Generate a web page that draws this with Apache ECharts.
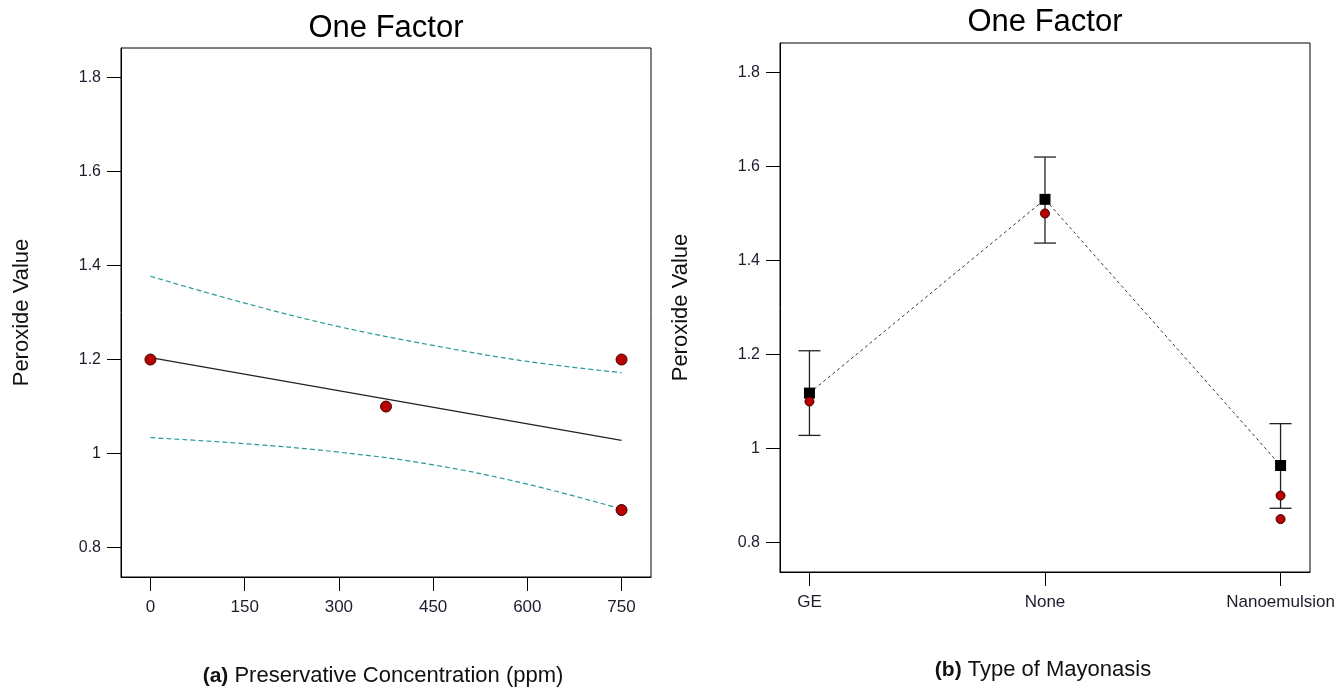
<!DOCTYPE html>
<html>
<head>
<meta charset="utf-8">
<script src="https://cdn.jsdelivr.net/npm/echarts@6/dist/echarts.min.js"></script>
<style>
  html, body { margin: 0; background: #fff; }
  #chart { width: 1336px; height: 688px; }
</style>
</head>
<body>
<div id="chart"></div>
<script>
// shared y axis ticks
const peroxTicks = [0.8, 1, 1.2, 1.4, 1.6, 1.8];

// (a) preservative concentration
const concTicks = [0, 150, 300, 450, 600, 750];
const concObsX = [0, 375, 750, 750];
const concObsY = [1.2, 1.1, 1.2, 0.88];
const concFitX = [0, 750];
const concFitY = [1.204, 1.028];
const concBandX = [0, 150, 300, 450, 600, 750];
const concUpper = [1.377, 1.320, 1.270, 1.230, 1.196, 1.172];
const concLower = [1.034, 1.021, 1.003, 0.976, 0.935, 0.882];

// (b) type of mayonnaise
const typeNames = ['GE', 'None', 'Nanoemulsion'];
const typeMean = [1.118, 1.530, 0.964];
const typeLow = [1.028, 1.437, 0.873];
const typeHigh = [1.208, 1.620, 1.053];
const typeObsIdx = [0, 1, 2, 2];
const typeObsY = [1.10, 1.50, 0.90, 0.85];

const FONT = 'Liberation Sans, Arial, sans-serif';
const RED = '#b80000';

function zip(a, b) {
  return a.map((v, i) => [v, b[i]]);
}

function yAxisOpt(gridIndex) {
  return {
    type: 'value',
    gridIndex: gridIndex,
    min: 0.7375,
    max: 1.8625,
    name: 'Peroxide Value',
    nameLocation: 'middle',
    nameGap: 88,
    nameTextStyle: { fontFamily: FONT, fontSize: 22, color: '#111' },
    axisLine: { show: true, onZero: false, lineStyle: { color: '#000', width: 1 } },
    axisTick: { show: true, length: 14, customValues: peroxTicks, lineStyle: { color: '#000' } },
    axisLabel: { customValues: peroxTicks, margin: 20, fontFamily: FONT, fontSize: 16, color: '#1c1c2c' },
    splitLine: { show: false }
  };
}

const chart = echarts.init(document.getElementById('chart'));

chart.setOption({
  animation: false,
  backgroundColor: '#fff',
  title: [
    { text: 'One Factor', left: 386, top: 13, textAlign: 'center', padding: 0,
      textStyle: { fontFamily: FONT, fontSize: 31, fontWeight: 'normal', color: '#000' } },
    { text: 'One Factor', left: 1045, top: 7, textAlign: 'center', padding: 0,
      textStyle: { fontFamily: FONT, fontSize: 31, fontWeight: 'normal', color: '#000' } },
    { text: '{b|(a)} Preservative Concentration (ppm)', left: 383, top: 665, textAlign: 'center', padding: 0,
      textStyle: { fontFamily: FONT, fontSize: 22, fontWeight: 'normal', color: '#111',
        rich: { b: { fontFamily: FONT, fontSize: 21, fontWeight: 'bold', color: '#111' } } } },
    { text: '{b|(b)} Type of Mayonasis', left: 1043, top: 659, textAlign: 'center', padding: 0,
      textStyle: { fontFamily: FONT, fontSize: 22, fontWeight: 'normal', color: '#111',
        rich: { b: { fontFamily: FONT, fontSize: 21, fontWeight: 'bold', color: '#111' } } } }
  ],
  grid: [
    { left: 121, top: 48, width: 530, height: 529, show: true, borderColor: '#000', borderWidth: 1,
      outerBoundsMode: 'none' },
    { left: 780, top: 43, width: 530, height: 529, show: true, borderColor: '#000', borderWidth: 1,
      outerBoundsMode: 'none' }
  ],
  xAxis: [
    {
      type: 'value',
      gridIndex: 0,
      min: -46.875,
      max: 796.875,
      axisLine: { show: true, onZero: false, lineStyle: { color: '#000', width: 1 } },
      axisTick: { show: true, length: 14, customValues: concTicks, lineStyle: { color: '#000' } },
      axisLabel: { customValues: concTicks, margin: 22, fontFamily: FONT, fontSize: 17, color: '#1c1c2c' },
      splitLine: { show: false }
    },
    {
      type: 'value',
      gridIndex: 1,
      min: -0.125,
      max: 2.125,
      axisLine: { show: true, onZero: false, lineStyle: { color: '#000', width: 1 } },
      axisTick: { show: true, length: 14, customValues: [0, 1, 2], lineStyle: { color: '#000' } },
      axisLabel: {
        customValues: [0, 1, 2], margin: 22, fontFamily: FONT, fontSize: 17, color: '#1c1c2c',
        formatter: (v) => typeNames[Math.round(v)] || ''
      },
      splitLine: { show: false }
    }
  ],
  yAxis: [yAxisOpt(0), yAxisOpt(1)],
  series: [
    // ---- panel (a)
    {
      type: 'line', xAxisIndex: 0, yAxisIndex: 0,
      data: zip(concBandX, concUpper), smooth: 0.4, symbol: 'none',
      lineStyle: { color: '#2b9a98', width: 1.2, type: [5, 3] }
    },
    {
      type: 'line', xAxisIndex: 0, yAxisIndex: 0,
      data: zip(concBandX, concLower), smooth: 0.4, symbol: 'none',
      lineStyle: { color: '#2b9a98', width: 1.2, type: [5, 3] }
    },
    {
      type: 'line', xAxisIndex: 0, yAxisIndex: 0,
      data: zip(concFitX, concFitY), symbol: 'none',
      lineStyle: { color: '#222', width: 1.4 }
    },
    {
      type: 'scatter', xAxisIndex: 0, yAxisIndex: 0,
      data: zip(concObsX, concObsY), symbol: 'circle', symbolSize: 11,
      itemStyle: { color: RED, borderColor: '#3a0000', borderWidth: 1, opacity: 1 },
      z: 5
    },
    // ---- panel (b)
    {
      type: 'line', xAxisIndex: 1, yAxisIndex: 1,
      data: zip([0, 1, 2], typeMean), symbol: 'none',
      lineStyle: { color: '#333', width: 1, type: [3, 3] }
    },
    {
      type: 'custom', xAxisIndex: 1, yAxisIndex: 1,
      data: typeNames.map((n, i) => [i, typeLow[i], typeHigh[i]]),
      encode: { x: 0, y: [1, 2] },
      renderItem(params, api) {
        const x = api.value(0);
        const lo = api.coord([x, api.value(1)]);
        const hi = api.coord([x, api.value(2)]);
        const half = 11;
        const style = { stroke: '#222', lineWidth: 1.3 };
        return {
          type: 'group',
          children: [
            { type: 'line', shape: { x1: lo[0], y1: lo[1], x2: hi[0], y2: hi[1] }, style: style },
            { type: 'line', shape: { x1: hi[0] - half, y1: hi[1], x2: hi[0] + half, y2: hi[1] }, style: style },
            { type: 'line', shape: { x1: lo[0] - half, y1: lo[1], x2: lo[0] + half, y2: lo[1] }, style: style }
          ]
        };
      },
      z: 3
    },
    {
      type: 'scatter', xAxisIndex: 1, yAxisIndex: 1,
      data: zip([0, 1, 2], typeMean), symbol: 'rect', symbolSize: 11,
      itemStyle: { color: '#000', opacity: 1 },
      z: 4
    },
    {
      type: 'scatter', xAxisIndex: 1, yAxisIndex: 1,
      data: zip(typeObsIdx, typeObsY), symbol: 'circle', symbolSize: 9,
      itemStyle: { color: RED, borderColor: '#3a0000', borderWidth: 1, opacity: 1 },
      z: 5
    }
  ]
});
</script>
</body>
</html>
